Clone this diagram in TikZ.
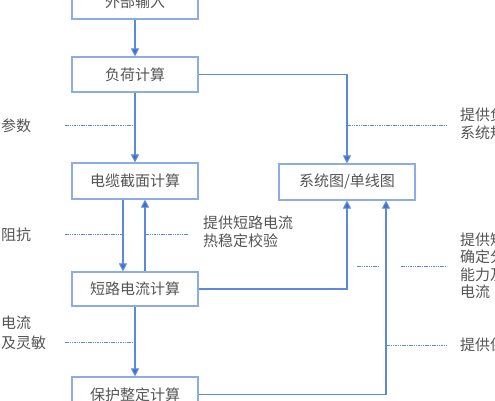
\documentclass[tikz,border=0pt]{standalone}
\usepackage{fontspec}
\setmainfont{Noto Sans CJK SC}
\usetikzlibrary{arrows.meta}
\definecolor{boxc}{RGB}{140,172,232}
\definecolor{linec}{RGB}{92,138,218}
\definecolor{tipc}{RGB}{62,110,205}
\definecolor{txt}{RGB}{85,85,85}
\tikzset{
  proc/.style={draw=boxc, line width=1.2pt, fill=white, minimum width=126pt, inner sep=0pt, text=txt, font=\fontsize{15}{18}\selectfont},
  conn/.style={draw=linec, line width=1.1pt, -{Triangle[length=8pt,width=8pt,fill=tipc]}},
  dashln/.style={draw=linec, line width=0.8pt, dash pattern=on 1.5pt off 0.8pt},
  lbl/.style={text=txt, inner sep=0pt, align=left, font=\fontsize{15}{18}\selectfont}
}
\begin{document}
\begin{tikzpicture}[x=1pt,y=-1pt]
\useasboundingbox[fill=white] (0,0) rectangle (495,400);
% boxes
\node[proc, minimum height=35pt] (in) at (135,1.5) {外部输入};
\node[proc, minimum height=35pt] (load) at (135,74.5) {负荷计算};
\node[proc, minimum height=36pt] (cable) at (135,181) {电缆截面计算};
\node[proc, minimum height=36pt, minimum width=136pt] (sys) at (347,182) {系统图/单线图};
\node[proc, minimum height=34pt] (sc) at (135,289) {短路电流计算};
\node[proc, minimum height=35pt] (prot) at (135,394.5) {保护整定计算};
% anchor points for parallel connectors
\coordinate (cdn) at ([xshift=-12pt]cable.south);
\coordinate (cup) at ([xshift=10pt]cable.south);
\coordinate (sdn) at ([xshift=-12pt]sc.north);
\coordinate (sup2) at ([xshift=10pt]sc.north);
\coordinate (sysb) at ([xshift=39pt]sys.south);
% connectors
\draw[conn] (in) -- (load);
\draw[conn] (load) -- (cable);
\draw[conn] (load.east) -| (sys.north);
\draw[conn] (cdn) -- (sdn);
\draw[conn] (sup2) -- (cup);
\draw[conn] (sc.east) -| (sys.south);
\draw[conn] (prot.east) -| (sysb);
\draw[conn] (sc) -- (prot);
% dashed leader lines
\coordinate (l1) at (65,125);
\coordinate (l2) at (65,234);
\coordinate (l3) at (65,342);
\coordinate (r1) at (447,125);
\coordinate (m2) at (188,234);
\coordinate (r3a) at (357,266);
\coordinate (r3b) at (378,266);
\coordinate (r3c) at (401,266);
\coordinate (r3d) at (447,266);
\coordinate (r4) at (447,345);
\draw[dashln] (l1) -- (l1 -| load.south);
\draw[dashln] (l2) -- (l2 -| cdn);
\draw[dashln] (cup |- m2) -- (m2);
\draw[dashln] (l3) -- (l3 -| sc.south);
\draw[dashln] (sys.north |- r1) -- (r1);
\draw[dashln] (r3a) -- (r3b);
\draw[dashln] (r3c) -- (r3d);
\draw[dashln] (sysb |- r4) -- (r4);
% labels
\node[lbl, anchor=west] (t1) at (1,126) {参数};
\node[lbl, anchor=west] (t2) at (1,235) {阻抗};
\node[lbl, anchor=west, font=\fontsize{15}{20}\selectfont] (t3) at (1,333) {电流\\及灵敏};
\node[lbl, anchor=west] (t4) at (203,232) {提供短路电流\\热稳定校验};
\node[lbl, anchor=west] (t5) at (460,124) {提供负\\系统规};
\node[lbl, anchor=west, font=\fontsize{15}{17.5}\selectfont] (t6) at (460,266) {提供短\\确定分\\能力及\\电流};
\node[lbl, anchor=west] (t7) at (460,345) {提供保};
\end{tikzpicture}
\end{document}
